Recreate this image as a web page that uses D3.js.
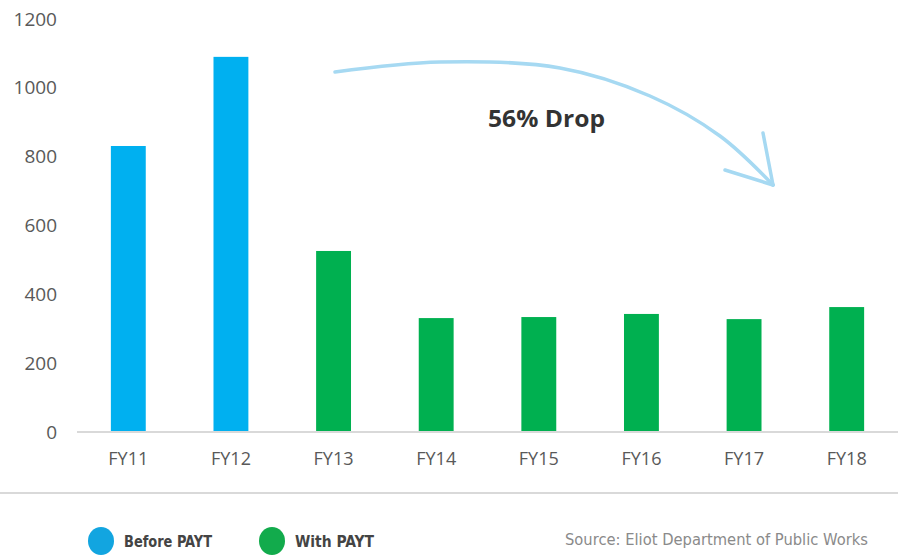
<!DOCTYPE html>
<html>
<head>
<meta charset="utf-8">
<script src="https://cdn.jsdelivr.net/npm/d3@7"></script>
<style>
  body { margin: 0; background: #fff; }
  svg { display: block; }
</style>
</head>
<body>
<svg id="chart" width="898" height="555"></svg>
<script>
// data
const years = ["FY11", "FY12", "FY13", "FY14", "FY15", "FY16", "FY17", "FY18"];
const tons = [831, 1090, 526, 331, 334, 343, 328, 363];
const phase = ["before", "before", "with", "with", "with", "with", "with", "with"];
const yTicks = [0, 200, 400, 600, 800, 1000, 1200];
const legendLabels = ["Before PAYT", "With PAYT"];

const colors = { before: "#00b0f0", with: "#00b050" };

const svg = d3.select("#chart");

const x = d3.scaleBand()
    .domain(years)
    .range([77, 898])
    .paddingInner(0.66)
    .paddingOuter(0.33);

const y = d3.scaleLinear()
    .domain([0, 1200])
    .range([432, 19]);

// y labels (no axis line)
const yAxis = svg.append("g")
    .attr("transform", "translate(57,0)")
    .call(d3.axisLeft(y).tickValues(yTicks).tickFormat(d3.format("d")).tickSize(0).tickPadding(0));
yAxis.select(".domain").remove();
yAxis.selectAll("text")
    .attr("fill", "#595959")
    .style("font-family", "'Open Sans', sans-serif")
    .style("font-size", "19px");

// bars
svg.selectAll(".bar")
    .data(years)
    .enter()
    .append("rect")
    .attr("class", "bar")
    .attr("x", d => x(d))
    .attr("y", (d, i) => y(tons[i]))
    .attr("width", x.bandwidth())
    .attr("height", (d, i) => y(0) - y(tons[i]))
    .attr("fill", (d, i) => colors[phase[i]]);

// x axis
const xAxis = svg.append("g")
    .attr("transform", `translate(0,${y(0)})`)
    .call(d3.axisBottom(x).tickSize(0).tickPadding(20));
xAxis.select(".domain")
    .attr("stroke", "#d9d9d9")
    .attr("stroke-width", 2)
    .attr("d", "M77,0H898");
xAxis.selectAll("text")
    .attr("fill", "#595959")
    .attr("textLength", 40)
    .attr("lengthAdjust", "spacingAndGlyphs")
    .style("font-family", "'Open Sans', sans-serif")
    .style("font-size", "18px");

// arrow annotation
const arrowPts = [[335, 72], [440, 62], [560, 68], [650, 96], [720, 136], [773, 185]];
const line = d3.line().curve(d3.curveCatmullRom.alpha(0.5));
const arrow = svg.append("g")
    .attr("fill", "none")
    .attr("stroke", "#a6d9f2")
    .attr("stroke-width", 3.5)
    .attr("stroke-linecap", "round");
arrow.append("path").attr("d", line(arrowPts));
arrow.append("path").attr("d", line([[725, 170], [773, 185]]));
arrow.append("path").attr("d", line([[763, 133], [773, 185]]));

svg.append("text")
    .attr("x", 488)
    .attr("y", 127)
    .attr("textLength", 117)
    .attr("lengthAdjust", "spacingAndGlyphs")
    .attr("fill", "#333")
    .style("font-family", "'Open Sans', sans-serif")
    .style("font-weight", "bold")
    .style("font-size", "23px")
    .text("56% Drop");

// separator
svg.append("line")
    .attr("x1", 0).attr("x2", 898)
    .attr("y1", 493).attr("y2", 493)
    .attr("stroke", "#d9d9d9")
    .attr("stroke-width", 2);

// legend
const legendX = [101, 272];
const legend = svg.selectAll(".legend")
    .data(legendLabels)
    .enter()
    .append("g")
    .attr("class", "legend")
    .attr("transform", (d, i) => `translate(${legendX[i]},541)`);
legend.append("ellipse")
    .attr("rx", 13)
    .attr("ry", 14)
    .attr("fill", (d, i) => i === 0 ? "#12a5e0" : "#12ab4c");
legend.append("text")
    .attr("x", 23)
    .attr("y", 6)
    .attr("textLength", (d, i) => i === 0 ? 88 : 79)
    .attr("lengthAdjust", "spacingAndGlyphs")
    .attr("fill", "#444")
    .style("font-family", "'DejaVu Sans Condensed', sans-serif")
    .style("font-weight", "bold")
    .style("font-size", "15px")
    .text(d => d);

svg.append("text")
    .attr("x", 868)
    .attr("y", 545)
    .attr("text-anchor", "end")
    .attr("textLength", 303)
    .attr("lengthAdjust", "spacingAndGlyphs")
    .attr("fill", "#8a8a8a")
    .style("font-family", "'DejaVu Sans', sans-serif")
    .style("font-size", "15px")
    .text("Source: Eliot Department of Public Works");
</script>
</body>
</html>
